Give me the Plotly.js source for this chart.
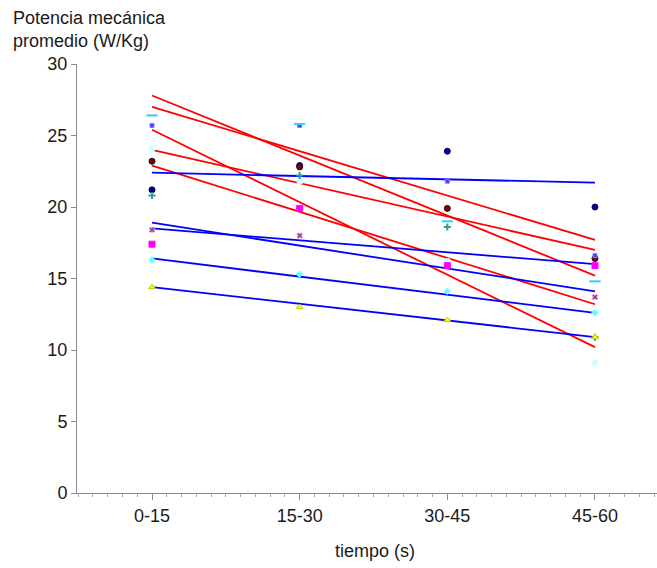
<!DOCTYPE html>
<html>
<head>
<meta charset="utf-8">
<script src="https://cdn.plot.ly/plotly-3.0.1.min.js"></script>
<style>html,body{margin:0;padding:0;background:#fff;}#chart{width:657px;height:568px;}</style>
</head>
<body>
<div id="chart"></div>
<script>
// ---- data ----
const categories = ['0-15', '15-30', '30-45', '45-60'];

const navyPts    = [21.2, 22.9, 23.9, 20.0];
const maroonPts  = [23.2, 22.8, 19.9, 16.4];
const bluePts    = [25.7, 25.7, 21.8, 16.6];
const skyPts     = [26.4, 25.8, 19.0, 14.8];
const palePts    = [24.1, 21.8, 16.2, 9.1];
const tealPts    = [20.8, 22.2, 18.6, 10.9];
const purplePts  = [18.4, 18.0, 15.9, 13.7];
const magentaPts = [17.4, 19.9, 15.9, 15.9];
const cyanPts    = [16.3, 15.3, 14.1, 12.6];
const yellowPts  = [14.4, 13.0, 12.1, 10.9];

// fitted lines: value at first and last category
const redTrendStart  = [27.8, 27.0, 25.4, 24.0, 22.9];
const redTrendEnd    = [15.2, 17.7, 10.2, 17.0, 13.2];
const blueTrendStart = [22.4, 18.9, 18.5, 16.4, 14.4];
const blueTrendEnd   = [21.7, 14.1, 16.0, 12.6, 10.9];

const yTickVals = [0, 5, 10, 15, 20, 25, 30];

// ---- styles ----
const seriesStyles = [
  {pts: navyPts,    symbol: 'circle',        size: 6, color: '#000080', lc: '#000080'},
  {pts: maroonPts,  symbol: 'circle',        size: 6, color: '#6b0a0a', lc: '#3a0000'},
  {pts: bluePts,    symbol: 'square',        size: 4, color: '#4040ff', lc: '#8080ff'},
  {pts: skyPts,     symbol: 'line-ew-open',  size: 8, color: '#33ccff', lc: '#33ccff'},
  {pts: palePts,    symbol: 'square',        size: 5, color: '#ccffff', lc: '#ccffff'},
  {pts: tealPts,    symbol: 'cross-thin-open', size: 5, color: '#339999', lc: '#339999'},
  {pts: purplePts,  symbol: 'x',             size: 5, color: '#993399', lc: '#cc99cc'},
  {pts: magentaPts, symbol: 'square',        size: 6, color: '#ff00ff', lc: '#ff00ff'},
  {pts: cyanPts,    symbol: 'diamond',       size: 5, color: '#66ffff', lc: '#66ffff'},
  {pts: yellowPts,  symbol: 'triangle-up',   size: 6, color: '#ffff00', lc: '#cccc00'}
];

const xIdx = categories.map((c, i) => i);
const traces = [];

function addTrend(s, e, color) {
  traces.push({
    type: 'scatter', mode: 'lines',
    x: [xIdx[0], xIdx[xIdx.length - 1]], y: [s, e],
    line: {color: color, width: 1.8},
    hoverinfo: 'skip', showlegend: false
  });
}
redTrendStart.forEach((s, i) => addTrend(s, redTrendEnd[i], '#ff0000'));
blueTrendStart.forEach((s, i) => addTrend(s, blueTrendEnd[i], '#0000ff'));

seriesStyles.forEach(st => {
  const open = st.symbol.indexOf('open') >= 0;
  traces.push({
    type: 'scatter', mode: 'markers',
    x: xIdx, y: st.pts,
    marker: {
      symbol: st.symbol, size: st.size, color: st.color,
      line: {color: st.lc, width: open ? 2 : 1}
    },
    showlegend: false
  });
});

const axisGray = '#8c8c8c';
const font = {family: 'Liberation Sans, Arial, sans-serif', size: 18, color: '#1a1a1a'};

const layout = {
  width: 657, height: 568,
  margin: {l: 77, r: 0, t: 64, b: 75},
  paper_bgcolor: '#fff', plot_bgcolor: '#fff',
  font: font,
  showlegend: false,
  xaxis: {
    type: 'linear',
    range: [-0.508, 3.42],
    tickvals: xIdx, ticktext: categories,
    showgrid: false, zeroline: false,
    showline: true, linecolor: axisGray, linewidth: 1,
    ticks: 'outside', ticklen: 6, tickcolor: axisGray, tickwidth: 1,
    minor: {dtick: 0.1, tick0: 0, ticks: 'outside', ticklen: 3, tickcolor: '#aaaaaa', showgrid: false},
    tickfont: font,
    fixedrange: true
  },
  yaxis: {
    range: [0, 30],
    tickvals: yTickVals,
    showgrid: false, zeroline: false,
    showline: true, linecolor: axisGray, linewidth: 1,
    ticks: 'outside', ticklen: 5, tickcolor: axisGray, tickwidth: 1,
    tickfont: font,
    fixedrange: true
  },
  annotations: [
    {text: 'Potencia mecánica<br>promedio (W/Kg)', xref: 'paper', yref: 'paper',
     x: -0.114, y: 1.026, xanchor: 'left', yanchor: 'bottom', align: 'left',
     showarrow: false, font: font},
    {text: 'tiempo (s)', xref: 'paper', yref: 'paper',
     x: 0.514, y: -0.108, xanchor: 'center', yanchor: 'top',
     showarrow: false, font: font}
  ]
};

Plotly.newPlot('chart', traces, layout, {staticPlot: true});
</script>
</body>
</html>
